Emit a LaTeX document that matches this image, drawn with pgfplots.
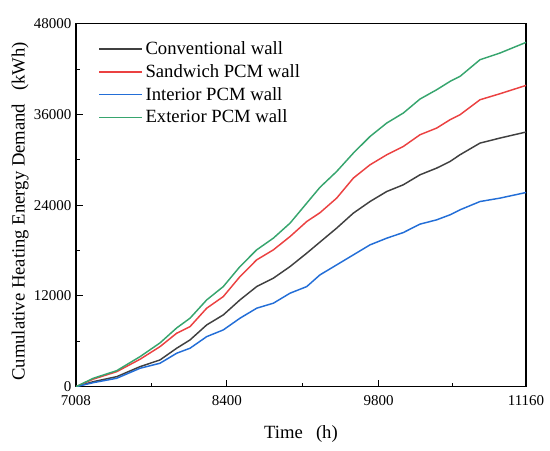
\documentclass[border=0pt]{standalone}
\usepackage{fontspec}
\setmainfont{Liberation Serif}
\usepackage{pgfplots}
\pgfplotsset{compat=1.18}
\definecolor{cgray}{RGB}{64,64,64}
\definecolor{cred}{RGB}{235,65,65}
\definecolor{cblue}{RGB}{35,110,215}
\definecolor{cgreen}{RGB}{55,165,110}
\begin{document}
\begin{tikzpicture}
\begin{axis}[
  scale only axis,
  width=337.5pt, height=272.25pt,
  xmin=7008, xmax=11160, ymin=0, ymax=48000,
  xtick={7008,8400,9800,11160},
  minor xtick={7704,9100,10480},
  ytick={0,12000,24000,36000,48000},
  minor ytick={6000,18000,30000,42000},
  xtick pos=left, ytick pos=left,
  tick align=inside,
  major tick length=5pt, minor tick length=3pt,
  every tick/.style={black, line width=0.8pt},
  axis line style={line width=1pt},
  scaled ticks=false,
  /pgf/number format/1000 sep={},
  /pgf/number format/assume math mode=true,
  tick label style={font=\fontsize{11.25}{13}\selectfont},
  xticklabel style={yshift=-3pt},
  label style={font=\fontsize{14}{16}\selectfont},
  xlabel={Time\hspace{0.7em}(h)},
  ylabel={Cumulative Heating Energy Demand\hspace{0.7em}(kWh)},
  xlabel style={at={(axis description cs:0.5,-0.13)}, anchor=center},
  ylabel style={at={(axis description cs:-0.124,0.483)}, anchor=center},
  legend style={draw=none, fill=none, at={(axis description cs:0.047,0.962)}, anchor=north west,
    font=\fontsize{14}{17.25}\selectfont, row sep=1.8pt, inner sep=1pt},
  legend cell align=left,
  legend image code/.code={\draw[mark repeat=2,mark phase=2,#1] plot coordinates {(0pt,0pt) (16pt,0pt) (32pt,0pt)};},
  legend image post style={line width=1.1pt},
  every axis plot/.append style={line width=1.1pt},
]
\addplot[cgray] coordinates {
(7008,0) (7168,662) (7384,1323) (7599,2647) (7783,3533) (7937,5082) (8060,6180) (8214,8165)
(8367,9489) (8521,11474) (8675,13234) (8829,14346) (8983,15881) (9137,17653) (9259,19120)
(9413,20963) (9567,22948) (9721,24483) (9875,25806) (10028,26693) (10182,28016) (10336,28903)
(10459,29776) (10551,30663) (10736,32211) (10920,32873) (11160,33670)};
\addlegendentry{Conventional wall}
\addplot[cred] coordinates {
(7008,0) (7168,1000) (7384,1985) (7599,3626) (7783,5294) (7937,7067) (8060,7940) (8214,10375)
(8367,11911) (8521,14557) (8675,16768) (8829,18091) (8983,19851) (9137,21836) (9259,23000)
(9413,24932) (9567,27580) (9721,29340) (9875,30663) (10028,31762) (10182,33310) (10336,34196)
(10459,35295) (10551,35957) (10736,37942) (10920,38736) (11160,39835)};
\addlegendentry{Sandwich PCM wall}
\addplot[cblue] coordinates {
(7008,0) (7168,530) (7384,1112) (7599,2435) (7783,3097) (7937,4420) (8060,5082) (8214,6617)
(8367,7504) (8521,9052) (8675,10375) (8829,11037) (8983,12361) (9137,13234) (9259,14783)
(9413,16106) (9567,17429) (9721,18753) (9875,19636) (10028,20380) (10182,21492) (10336,22061)
(10459,22723) (10551,23384) (10736,24483) (10920,24932) (11160,25674)};
\addlegendentry{Interior PCM wall}
\addplot[cgreen] coordinates {
(7008,0) (7168,1112) (7384,2117) (7599,3970) (7783,5783) (7937,7768) (8060,9052) (8214,11474)
(8367,13234) (8521,15881) (8675,18091) (8829,19640) (8983,21624) (9137,24271) (9259,26360)
(9413,28453) (9567,30888) (9721,33085) (9875,34859) (10028,36182) (10182,38033) (10336,39265)
(10459,40364) (10551,41025) (10736,43235) (10920,44118) (11160,45525)};
\addlegendentry{Exterior PCM wall}
\end{axis}
\pgfresetboundingbox
\path (-57pt,-47.5pt) rectangle (355.5pt,290pt);
\end{tikzpicture}
\end{document}
